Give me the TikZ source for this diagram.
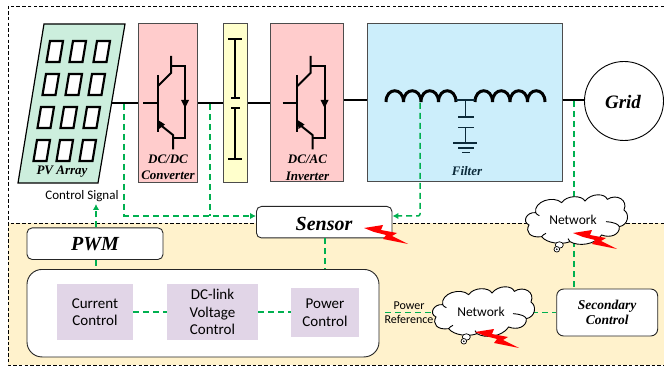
\documentclass[tikz,border=0pt]{standalone}
\usepackage{fontspec}
\setmainfont{Liberation Serif}
\newfontfamily\calf{Carlito}
\usetikzlibrary{arrows.meta}
\definecolor{gline}{HTML}{00B050}
\definecolor{cream}{HTML}{FFF2CC}
\definecolor{pvg}{HTML}{CCEEDD}
\definecolor{pinkb}{HTML}{FFCCCC}
\definecolor{yelb}{HTML}{FFFFCC}
\definecolor{filb}{HTML}{CCEEFB}
\definecolor{lilac}{HTML}{E1D5E7}
\definecolor{filk}{HTML}{0B2A3A}
\tikzset{
 x=1pt,y=-1pt,
 frame/.style={draw=black,line width=0.7pt,dash pattern=on 3.5pt off 2.2pt},
 wire/.style={draw=black,line width=2pt},
 sig/.style={draw=gline,line width=1.5pt,dash pattern=on 6pt off 4pt},
 sigtip/.style={-{Latex[length=6pt,width=6.5pt]}},
 blk/.style={draw=black!70,line width=1pt,inner sep=0pt},
 rbox/.style={draw=black!85,line width=0.9pt,fill=white,rounded corners=5pt,inner sep=0pt},
 ctrl/.style={fill=lilac,inner sep=0pt,align=center,font=\calf\fontsize{15}{17.5}\selectfont},
 lab/.style={inner sep=0pt,align=center,font=\bfseries\itshape\fontsize{13}{16.5}\selectfont},
 bigl/.style={inner sep=0pt,align=center,font=\bfseries\itshape\fontsize{20}{22}\selectfont},
 nettext/.style={inner sep=0pt,font=\calf\fontsize{13.5}{15}\selectfont},
 small/.style={inner sep=0pt,align=center,font=\calf\fontsize{13}{14}\selectfont},
 reftext/.style={inner sep=0pt,align=center,font=\calf\fontsize{12}{14}\selectfont},
 boltf/.style={fill=red,draw=none},
 igbtl/.style={draw=black,line width=2pt},
 cell/.style={draw=black,line width=2.2pt,fill=white},
 dot/.style={draw=black,line width=0.7pt,fill=white},
 cloudl/.style={draw=black,line width=0.9pt,fill=white},
 cloudi/.style={draw=black,line width=0.9pt},
}
\newcommand{\bolt}[2]{\fill[boltf,shift={(#1,#2)}] (0,0)--(19,-3)--(17,2)--(33,5)--(28,8)--(44,16)--(19,11)--(22,7)--(10,4)--cycle;}
\newcommand{\igbt}[1]{\begin{scope}[shift={(#1,0)}]
 \draw[igbtl] (143,103)--(157.5,103);
 \draw[igbtl] (157.5,75)--(157.5,132);
 \draw[igbtl] (158,86)--(171,73)--(171,56);
 \draw[igbtl] (171,66)--(185,66)--(185,138.5)--(173,138.5);
 \draw[igbtl] (158,123)--(173,135)--(173,149.5);
 \fill[black] (181,100)--(189,100)--(185,108)--cycle;
 \fill[black] (158,120)--(165,124.5)--(159,129)--cycle;
\end{scope}}
\newcommand{\coil}[1]{\draw[draw=black,line width=3pt,shift={(#1,0)}] (0,102) .. controls (0,87) and (17.5,87) .. (17.5,102) .. controls (17.5,87) and (35,87) .. (35,102) .. controls (35,87) and (52.5,87) .. (52.5,102) .. controls (52.5,87) and (70,87) .. (70,102);}
% cloud outline traced in a local frame of one third of a pixel
\newcommand{\netcloud}[2]{\begin{scope}[shift={(#1,#2)},x=0.3333pt,y=-0.3333pt]
 \draw[cloudl] (27,105) .. controls (5,95) and (20,65) .. (47,68)
   .. controls (40,35) and (100,15) .. (125,38)
   .. controls (140,15) and (185,15) .. (195,33)
   .. controls (215,8) and (255,10) .. (262,28)
   .. controls (290,10) and (325,30) .. (312,60)
   .. controls (330,72) and (325,105) .. (298,110)
   .. controls (300,135) and (270,145) .. (245,135)
   .. controls (225,165) and (175,170) .. (150,155)
   .. controls (125,165) and (80,160) .. (65,140)
   .. controls (30,145) and (15,125) .. (27,105) -- cycle;
 \draw[cloudi] (47,68) .. controls (49,72) and (53,75) .. (58,77);
 \draw[cloudi] (298,110) .. controls (295,103) and (285,97) .. (258,95);
 \draw[cloudi] (65,140) .. controls (68,136) and (72,132) .. (78,130);
 \draw[cloudi] (150,155) .. controls (148,152) and (146,149) .. (144,146);
\end{scope}}
\begin{document}
\begin{tikzpicture}
\useasboundingbox (0,0) rectangle (664,366);
\fill[white] (0,0) rectangle (664,366);
\fill[cream] (8,223) rectangle (664,365);
\draw[frame] (664,223)--(8,223);
\draw[frame] (664,6)--(8,6)--(8,365)--(664,365);

% PV array
\coordinate (pvout) at (112,103);
\draw[draw=black,line width=1.2pt,fill=pvg] (44,24)--(125,24)--(98,183)--(18,183)--cycle;
\foreach \xa/\ya in {50/41,73/41,97/41,46/74,69/74,92/74,41/107,64/107,87/107,37/140,60/140,83/140}
  \draw[cell] (\xa,\ya)--++(13,0)--++(-3.5,21)--++(-13,0)--cycle;
\node[lab] (pvlab) at (62,172) {PV Array};

% blocks
\node[blk,fill=pinkb,minimum width=59pt,minimum height=159pt] (conv) at (167.5,103.5) {};
\node[blk,fill=yelb,minimum width=24pt,minimum height=159pt] (dclink) at (235,103) {};
\node[blk,fill=pinkb,minimum width=73.5pt,minimum height=158pt] (inv) at (307.2,103) {};
\node[blk,fill=filb,minimum width=194.5pt,minimum height=158pt] (filt) at (464.8,103) {};
\node[draw=black,line width=0.9pt,circle,inner sep=0pt,minimum size=79pt,fill=white] (grid) at (624,101) {};
\node[inner sep=0pt,font=\bfseries\itshape\fontsize{19}{22}\selectfont] (gridl) at (623,102) {Grid};

% power wires
\draw[wire] (pvout)--(conv.west |- pvout);
\draw[wire] (conv.east |- pvout)--(dclink.west |- pvout);
\draw[wire] (dclink.east |- pvout)--(inv.west |- pvout);
\draw[wire] ([yshift=3pt]inv.east)--([yshift=3pt]filt.west);
\draw[wire] ([yshift=3pt]filt.east)--([yshift=1pt]grid.west);

% switches
\igbt{0}
\igbt{139.5}
\node[lab] (convl) at (168,167.5) {DC/DC\\Converter};
\node[lab] (invl) at (307.5,168) {DC/AC\\Inverter};

% dc link cap
\draw[igbtl,line width=1.6pt] (228,39)--(242,39) (235,39)--(235,98) (231,98)--(240,98);
\draw[igbtl,line width=1.6pt] (231,108)--(240,108) (235,108)--(235,159) (228,159)--(242,159);

% filter
\coil{386}
\coil{475}
\draw[draw=filk,line width=1.8pt] (456,100)--(475,100) (465.5,100)--(465.5,117) (458,117)--(474,117);
\draw[draw=filk,line width=1.8pt] (458,127.5)--(474,127.5) (465.5,127.5)--(465.5,143) (453,143)--(477,143) (458,148)--(474,148) (462,152.5)--(470,152.5);
\node[lab,text=filk] (filtl) at (467,171) {Filter};

% control-side blocks
\node[rbox,minimum width=135.5pt,minimum height=31.5pt] (sensor) at (324.2,222.2) {};
\node[bigl] (sensorl) at (324,224) {Sensor};
\node[rbox,minimum width=136pt,minimum height=31.5pt] (pwm) at (95,243.7) {};
\node[bigl] (pwml) at (95,244.5) {PWM};
\node[rbox,rounded corners=15pt,minimum width=352pt,minimum height=87.5pt] (ctl) at (203,313.2) {};
\node[ctrl,minimum width=76pt,minimum height=56pt] (cur) at (95,312) {Current\\Control};
\node[ctrl,minimum width=91pt,minimum height=56pt] (dcv) at (212.5,312) {DC-link\\Voltage\\Control};
\node[ctrl,minimum width=68pt,minimum height=49pt] (pow) at (325,312.5) {Power\\Control};
\node[rbox,rounded corners=7pt,minimum width=101pt,minimum height=47pt,font=\bfseries\itshape\fontsize{13.5}{15.5}\selectfont,align=center] (sec) at (607.2,312.5) {Secondary\\Control};

% control signals
\coordinate (tapa) at (124,104);
\coordinate (tapb) at (210,104);
\coordinate (tapf) at (420,103);
\coordinate (tapg) at (574,101);
\coordinate (busa) at (123,216);
\coordinate (pwmup) at (96,204);
\coordinate (refs) at (385,312.5);
\coordinate (netin) at (436,312.5);
\coordinate (netout) at (532,312.5);
\draw[sig] (tapa)--(124,216);
\draw[sig] (tapb)--(210,216);
\draw[sig,sigtip] (busa)--(sensor.west |- busa);
\draw[sig,sigtip,rounded corners=2pt] (tapf)--(tapf |- busa)--(sensor.east |- busa);
\draw[sig,sigtip] (pwm.north -| pwmup)--(pwmup);
\draw[sig] (pwm.south -| pwmup)--(ctl.north -| pwmup);
\draw[sig] (sensor.south -| pow)--(ctl.north -| pow);
\draw[sig] (cur.east)--(dcv.west);
\draw[sig] (dcv.east)--(pow.west |- dcv.east);
\draw[sig] (tapg)--(sec.north -| tapg);
\draw[sig] (refs)--(netin);
\draw[sig] (netout)--(sec.west |- netout);
\node[small] (ctrlsig) at (82,196) {Control Signal};
\node[reftext] (powref) at (409,313) {Power\\Reference};

% clouds
\netcloud{520}{190}
\netcloud{427}{282}
\node[nettext] (net1l) at (573,220) {Network};
\node[nettext] (net2l) at (481,312) {Network};
\foreach \cx/\cy in {559.3/245,466.3/337}{
  \draw[dot] (\cx,\cy) ellipse (4pt and 3.2pt);
  \draw[dot] (\cx-2.5,\cy+4.3) circle (2.8pt);
  \fill[black] (\cx-2.5,\cy+4.3) circle (0.9pt);
}
% bolts
\bolt{364}{228}
\bolt{573}{233}
\bolt{475}{332}
\end{tikzpicture}
\end{document}
